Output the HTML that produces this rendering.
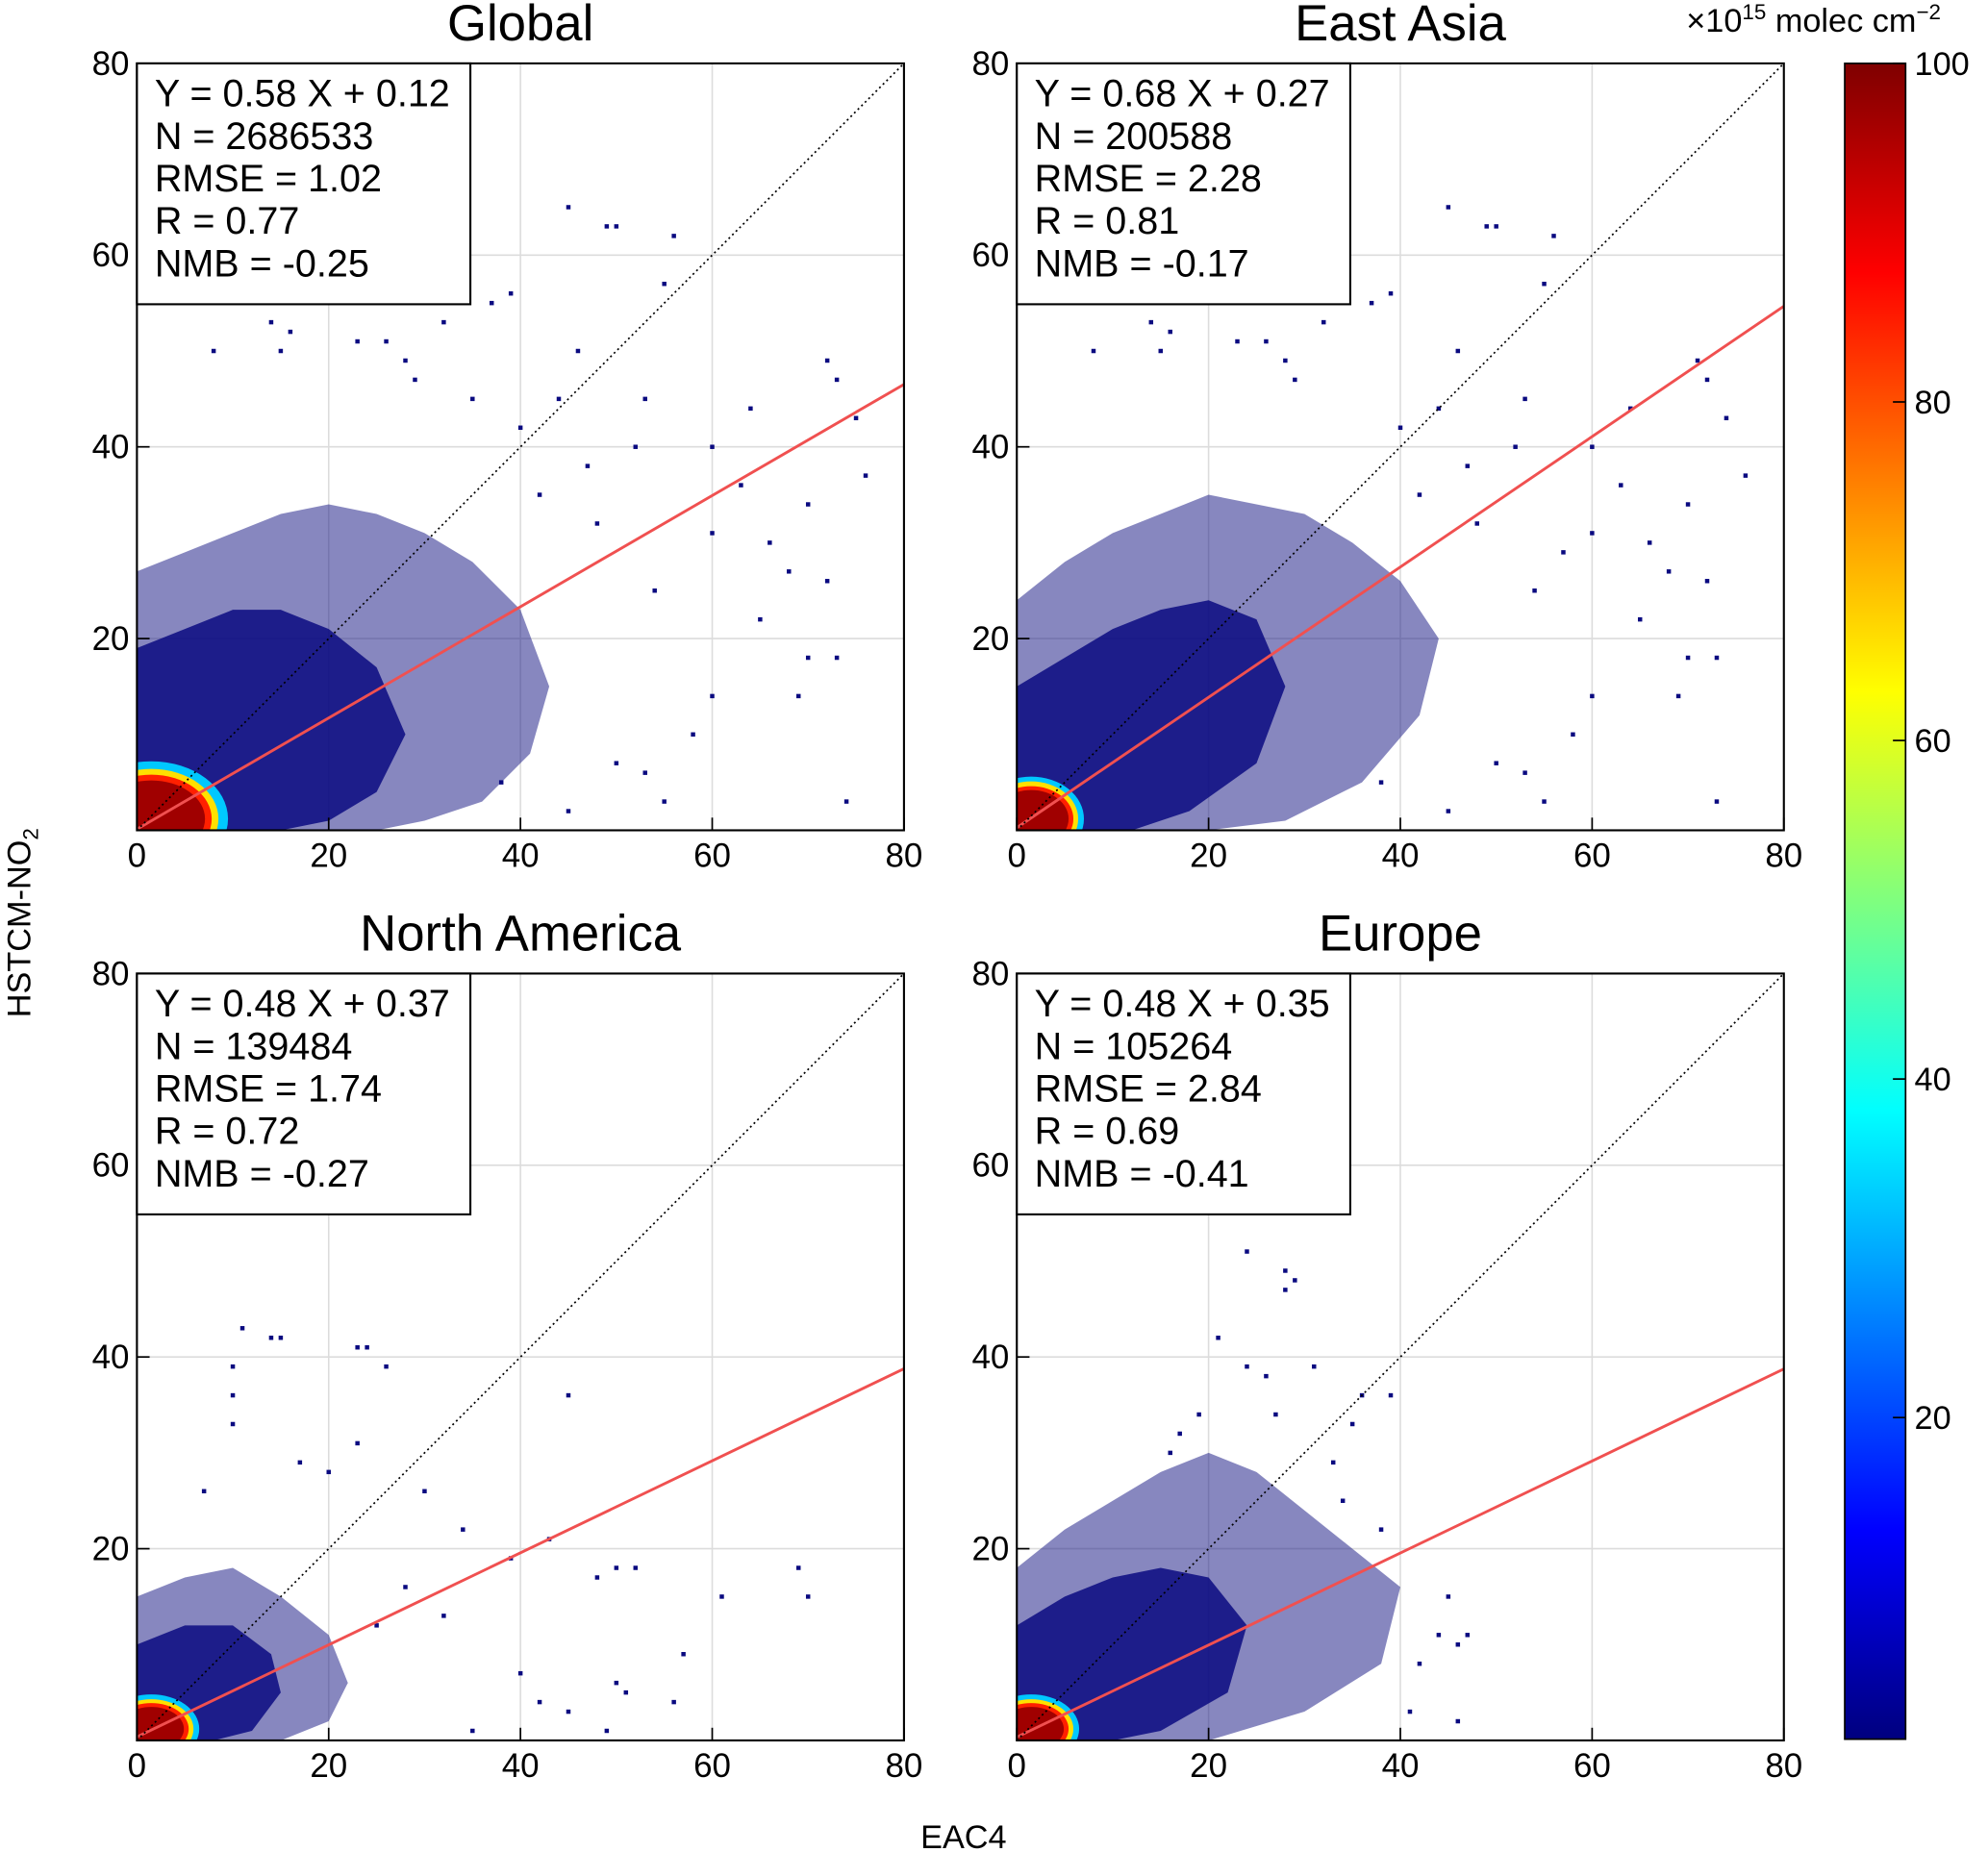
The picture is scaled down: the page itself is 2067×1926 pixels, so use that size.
<!DOCTYPE html>
<html><head><meta charset="utf-8"><style>
html,body{margin:0;padding:0;background:#fff;}
svg{display:block;font-family:"Liberation Sans",Arial,sans-serif;}
</style></head><body>
<svg id="chart" width="2067" height="1926" viewBox="0 0 1568 1461" xmlns="http://www.w3.org/2000/svg">
<defs>
<linearGradient id="jet" x1="0" y1="1" x2="0" y2="0">
<stop offset="0" stop-color="#00007f"/><stop offset="0.125" stop-color="#0000ff"/>
<stop offset="0.375" stop-color="#00ffff"/><stop offset="0.5" stop-color="#7fff7f"/>
<stop offset="0.625" stop-color="#ffff00"/><stop offset="0.875" stop-color="#ff0000"/>
<stop offset="1" stop-color="#7f0000"/></linearGradient>
</defs>
</svg>
<script>
const NS="http://www.w3.org/2000/svg";
const svg=document.getElementById('chart');
const panelTitles=["Global","East Asia","North America","Europe"];
const slopes=[0.58,0.68,0.48,0.48];
const intercepts=[0.12,0.27,0.37,0.35];
const statN=["2686533","200588","139484","105264"];
const statRMSE=["1.02","2.28","1.74","2.84"];
const statR=["0.77","0.81","0.72","0.69"];
const statNMB=["-0.25","-0.17","-0.27","-0.41"];
const axisTicks=[0,20,40,60,80];
const cbTicks=[20,40,60,80,100];
// density envelopes (data units)
const outerEnv=[
[[0,0],[0,27],[5,29],[10,31],[15,33],[20,34],[25,33],[30,31],[35,28],[40,23],[43,15],[41,8],[36,3],[30,1],[25,0]],
[[0,0],[0,24],[5,28],[10,31],[15,33],[20,35],[25,34],[30,33],[35,30],[40,26],[44,20],[42,12],[36,5],[28,1],[20,0]],
[[0,0],[0,15],[5,17],[10,18],[15,15],[20,11],[22,6],[20,2],[15,0]],
[[0,0],[0,18],[5,22],[10,25],[15,28],[20,30],[25,28],[30,24],[35,20],[40,16],[38,8],[30,3],[20,0]]];
const innerEnv=[
[[0,0],[0,19],[5,21],[10,23],[15,23],[20,21],[25,17],[28,10],[25,4],[20,1],[15,0]],
[[0,0],[0,15],[5,18],[10,21],[15,23],[20,24],[25,22],[28,15],[25,7],[18,2],[12,0]],
[[0,0],[0,10],[5,12],[10,12],[14,9],[15,5],[12,1],[8,0]],
[[0,0],[0,12],[5,15],[10,17],[15,18],[20,17],[24,12],[22,5],[15,1],[10,0]]];
const coreRadX=[[8,7,6.3,5.6],[5.5,4.9,4.4,3.9],[5,4.4,3.9,3.4],[5,4.4,3.9,3.4]];
const coreRadY=[[6,5.2,4.6,4],[4.4,3.9,3.4,3],[3.6,3.1,2.7,2.3],[3.6,3.1,2.7,2.3]];
const coreCol=["#00c8ff","#ffe000","#ff2000","#a00000"];
const ptsX=[
[45,49,50,56,55,39,37,32,14,16,23,26,15,8,28,29,72,73,75,64,53,46,40,42,47,60,63,70,68,72,65,70,73,69,74,60,58,53,50,45,55,38,66,76,60,54,44,35,48,52],
[45,49,50,56,55,39,37,32,14,16,23,26,15,8,28,29,71,72,74,64,53,46,40,42,47,60,63,70,68,72,65,70,73,69,73,60,58,53,50,45,55,38,66,76,60,54,44,48,52,57],
[11,14,15,23,24,26,10,10,10,23,20,7,17,30,34,45,43,39,48,50,52,61,69,70,57,50,51,56,49,40,42,35,45,32,28,25],
[24,28,29,28,21,24,26,31,39,36,34,45,47,46,44,42,46,41,35,27,19,17,16,38,33]];
const ptsY=[
[65,63,63,62,57,56,55,53,53,52,51,51,50,50,49,47,49,47,43,44,45,50,42,35,38,40,36,34,27,26,22,18,18,14,3,14,10,6,7,2,3,5,30,37,31,25,45,45,32,40],
[65,63,63,62,57,56,55,53,53,52,51,51,50,50,49,47,49,47,43,44,45,50,42,35,38,40,36,34,27,26,22,18,18,14,3,14,10,6,7,2,3,5,30,37,31,25,44,32,40,29],
[43,42,42,41,41,39,39,36,33,31,28,26,29,26,22,36,21,19,17,18,18,15,18,15,9,6,5,4,1,7,4,1,3,13,16,12],
[51,49,48,47,42,39,38,39,36,36,25,15,11,10,11,8,2,3,33,34,34,32,30,22,29]];
const panels=[[108,50],[802,50],[108,768],[802,768]];
const W=605,H=605,MAX=80;
function mk(tag,attrs,parent){const e=document.createElementNS(NS,tag);for(const k in attrs)e.setAttribute(k,attrs[k]);(parent||svg).appendChild(e);return e;}
function txt(s,attrs,parent){const e=mk('text',attrs,parent);e.textContent=s;return e;}
panels.forEach((p,i)=>{
 const [x0,y0]=p;
 const sx=v=>x0+v/MAX*W, sy=v=>y0+H-v/MAX*H;
 const g=mk('g',{});
 
 
 const clip=mk('clipPath',{id:'c'+i},g);mk('rect',{x:x0,y:y0,width:W,height:H},clip);
 axisTicks.slice(1,4).forEach(t=>{
  const gl=mk('line',{x1:sx(t),x2:sx(t),y1:y0,y2:y0+H,stroke:'#dcdcdc','stroke-width':1.2},g);
  
  const gh=mk('line',{x1:x0,x2:x0+W,y1:sy(t),y2:sy(t),stroke:'#dcdcdc','stroke-width':1.2},g);
  
 });
 const dg=mk('g',{'clip-path':'url(#c'+i+')'},g);
 const oe=mk('polygon',{points:outerEnv[i].map(q=>sx(q[0])+','+sy(q[1])).join(' '),fill:'#10107f','fill-opacity':0.5},dg);
 
 const ie=mk('polygon',{points:innerEnv[i].map(q=>sx(q[0])+','+sy(q[1])).join(' '),fill:'#0a0a80','fill-opacity':0.85},dg);
 
 ptsX[i].forEach((vx,k)=>{
  const r=mk('rect',{x:sx(vx)-1.7,y:sy(ptsY[i][k])-1.7,width:3.4,height:3.4,fill:'#0a0a80'},dg);
  
 });
 coreRadX[i].forEach((rx,k)=>{
  const e=mk('ellipse',{cx:sx(1.5),cy:sy(1.2),rx:rx/MAX*W,ry:coreRadY[i][k]/MAX*H,fill:coreCol[k]},dg);
  
 });
 const d=mk('line',{x1:sx(0),y1:sy(0),x2:sx(80),y2:sy(80),stroke:'#000','stroke-width':1.3,'stroke-dasharray':'1.5,2.5'},g);
 
 const rl=mk('line',{x1:sx(0),y1:sy(intercepts[i]),x2:sx(80),y2:sy(intercepts[i]+slopes[i]*80),stroke:'#f05050','stroke-width':2.2},dg);
 
 const fr=mk('rect',{x:x0,y:y0,width:W,height:H,fill:'none',stroke:'#000','stroke-width':1.6},g);
 
 axisTicks.forEach(t=>{
  mk('line',{x1:sx(t),x2:sx(t),y1:y0+H,y2:y0+H-10,stroke:'#000','stroke-width':1.3},g);
  mk('line',{x1:x0,x2:x0+10,y1:sy(t),y2:sy(t),stroke:'#000','stroke-width':1.3},g);
  const xl=txt(String(t),{x:sx(t),y:y0+H+29,'font-size':26.5,'text-anchor':'middle'},g);
  
  if(t>0){const yl=txt(String(t),{x:x0-6,y:sy(t)+9,'font-size':26.5,'text-anchor':'end'},g);
  }
 });
 const tt=txt(panelTitles[i],{x:x0+W/2,y:y0-18,'font-size':40,'text-anchor':'middle'},g);
 
 const sb=mk('rect',{x:x0,y:y0,width:263,height:190,fill:'#fff',stroke:'#000','stroke-width':1.6},g);
 
 const lines=['Y = '+slopes[i].toFixed(2)+' X + '+intercepts[i].toFixed(2),'N = '+statN[i],'RMSE = '+statRMSE[i],'R = '+statR[i],'NMB = '+statNMB[i]];
 lines.forEach((s,k)=>{const t=txt(s,{x:x0+14,y:y0+34+k*33.5,'font-size':30},g);
  });
});
// colorbar
const cbY0=50,cbY1=1372,cbMin=1,cbMax=100;
const cy=v=>cbY1-(v-cbMin)/(cbMax-cbMin)*(cbY1-cbY0);
const cb=mk('rect',{x:1455,y:cbY0,width:48,height:cbY1-cbY0,fill:'url(#jet)',stroke:'#000','stroke-width':1.3});

cbTicks.forEach(t=>{
 mk('line',{x1:1493,x2:1503,y1:cy(t),y2:cy(t),stroke:'#000','stroke-width':1.3});
 const l=txt(String(t),{x:1510,y:cy(t)+9,'font-size':26});
 
});
const cbt=mk('text',{x:1330,y:25,'font-size':26});

cbt.innerHTML='×10<tspan dy="-10" font-size="17">15</tspan><tspan dy="10"> molec cm</tspan><tspan dy="-10" font-size="17">−2</tspan>';
const yt=mk('text',{x:0,y:0,'font-size':26,'text-anchor':'middle',transform:'translate(24,728) rotate(-90)'});

yt.innerHTML='HSTCM-NO<tspan dy="6" font-size="17">2</tspan>';
const xt=txt('EAC4',{x:760,y:1458,'font-size':26,'text-anchor':'middle'});

</script>
</body></html>
